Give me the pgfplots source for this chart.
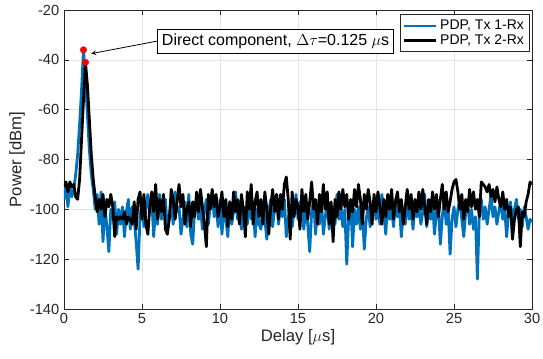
\documentclass[border=0pt]{standalone}
\usepackage{pgfplots}
\usepackage{pgfplotstable}
\pgfplotsset{compat=1.18}
\usepackage{fontspec}
\setmainfont{Liberation Sans}
\definecolor{mblue}{rgb}{0,0.447,0.741}
\definecolor{axgray}{rgb}{0.15,0.15,0.15}
\pgfplotstableread{
x blue black
0.000 -96 -91
0.125 -90 -89
0.250 -99 -93
0.375 -91 -89
0.500 -95 -91
0.625 -92 -90
0.750 -86 -95
0.875 -78 -96
1.000 -66 -88
1.125 -52 -72
1.250 -36 -56
1.375 -48 -41
1.500 -62 -50
1.625 -76 -64
1.750 -86 -78
1.875 -92 -88
2.000 -100 -95
2.125 -94 -101
2.250 -106 -96
2.375 -93 -100
2.500 -113 -94
2.625 -99 -103
2.750 -107 -96
2.875 -117 -99
3.000 -100 -94
3.125 -104 -99
3.250 -97 -111
3.375 -110 -103
3.500 -100 -104
3.625 -106 -103
3.750 -99 -104
3.875 -111 -101
4.000 -101 -106
4.125 -96 -103
4.250 -108 -104
4.375 -99 -106
4.500 -104 -97
4.625 -113 -108
4.750 -124 -96
4.875 -103 -93
5.000 -97 -104
5.125 -107 -94
5.250 -100 -106
5.375 -94 -110
5.500 -101 -99
5.625 -96 -93
5.750 -111 -101
5.875 -99 -90
6.000 -106 -104
6.125 -94 -96
6.250 -104 -101
6.375 -100 -94
6.500 -96 -108
6.625 -108 -110
6.750 -103 -104
6.875 -97 -92
7.000 -106 -96
7.125 -93 -104
7.250 -101 -97
7.375 -99 -90
7.500 -110 -99
7.625 -104 -94
7.750 -97 -106
7.875 -107 -100
8.000 -94 -97
8.125 -110 -107
8.250 -114 -97
8.375 -100 -103
8.500 -96 -93
8.625 -104 -101
8.750 -99 -92
8.875 -108 -99
9.000 -101 -106
9.125 -96 -115
9.250 -106 -94
9.375 -99 -100
9.500 -93 -92
9.625 -103 -99
9.750 -97 -94
9.875 -107 -103
10.000 -96 -99
10.125 -110 -93
10.250 -100 -103
10.375 -104 -96
10.500 -111 -107
10.625 -97 -97
10.750 -106 -104
10.875 -101 -93
11.000 -93 -101
11.125 -104 -96
11.250 -97 -106
11.375 -108 -94
11.500 -101 -100
11.625 -99 -111
11.750 -106 -93
11.875 -96 -100
12.000 -104 -90
12.125 -99 -106
12.250 -111 -97
12.375 -100 -93
12.500 -106 -103
12.625 -108 -96
12.750 -97 -106
12.875 -104 -93
13.000 -112 -100
13.125 -101 -110
13.250 -96 -99
13.375 -107 -92
13.500 -100 -101
13.625 -94 -94
13.750 -106 -104
13.875 -99 -94
14.000 -103 -100
14.125 -96 -90
14.250 -111 -87
14.375 -104 -96
14.500 -99 -112
14.625 -107 -93
14.750 -100 -103
14.875 -94 -96
15.000 -104 -99
15.125 -97 -108
15.250 -101 -92
15.375 -108 -101
15.500 -99 -94
15.625 -106 -104
15.750 -117 -97
15.875 -101 -89
16.000 -96 -100
16.125 -110 -96
16.250 -100 -106
16.375 -106 -94
16.500 -96 -101
16.625 -110 -90
16.750 -103 -100
16.875 -97 -93
17.000 -108 -106
17.125 -101 -97
17.250 -99 -113
17.375 -106 -96
17.500 -94 -103
17.625 -104 -93
17.750 -99 -100
17.875 -107 -92
18.000 -100 -99
18.125 -122 -94
18.250 -103 -104
18.375 -97 -96
18.500 -115 -101
18.625 -100 -92
18.750 -106 -99
18.875 -99 -90
19.000 -108 -96
19.125 -101 -106
19.250 -116 -94
19.375 -104 -100
19.500 -99 -92
19.625 -107 -97
19.750 -100 -106
19.875 -96 -94
20.000 -104 -101
20.125 -99 -93
20.250 -106 -99
20.375 -94 -106
20.500 -101 -96
20.625 -110 -103
20.750 -97 -94
20.875 -104 -100
21.000 -100 -92
21.125 -107 -104
21.250 -96 -97
21.375 -103 -93
21.500 -99 -101
21.625 -111 -96
21.750 -101 -106
21.875 -106 -99
22.000 -96 -92
22.125 -104 -100
22.250 -100 -94
22.375 -108 -104
22.500 -97 -96
22.625 -103 -101
22.750 -99 -93
22.875 -106 -100
23.000 -101 -92
23.125 -94 -99
23.250 -107 -106
23.375 -100 -96
23.500 -104 -101
23.625 -97 -93
23.750 -110 -100
23.875 -101 -94
24.000 -99 -103
24.125 -114 -96
24.250 -103 -90
24.375 -96 -100
24.500 -106 -93
24.625 -100 -101
24.750 -118 -97
24.875 -104 -92
25.000 -99 -89
25.125 -107 -88
25.250 -100 -93
25.375 -96 -100
25.500 -104 -94
25.625 -111 -104
25.750 -101 -96
25.875 -97 -101
26.000 -106 -92
26.125 -100 -99
26.250 -108 -93
26.375 -103 -100
26.500 -128 -96
26.625 -101 -103
26.750 -96 -89
26.875 -104 -90
27.000 -99 -91
27.125 -106 -93
27.250 -100 -90
27.375 -94 -95
27.500 -103 -92
27.625 -99 -97
27.750 -106 -91
27.875 -101 -96
28.000 -96 -99
28.125 -104 -93
28.250 -100 -100
28.375 -111 -96
28.500 -101 -103
28.625 -97 -99
28.750 -106 -112
28.875 -100 -104
29.000 -96 -100
29.125 -104 -99
29.250 -100 -115
29.375 -107 -101
29.500 -99 -103
29.625 -103 -97
29.750 -108 -94
29.875 -104 -89
30.000 -105 -90
}\pdpdata
\begin{document}
\begin{tikzpicture}
\path[use as bounding box] (-48pt,-36.75pt) rectangle (359.25pt,231.75pt);
\begin{axis}[
  scale only axis,
  width=351pt, height=224.25pt,
  xmin=0, xmax=30, ymin=-140, ymax=-20,
  xtick={0,5,...,30}, ytick={-140,-120,...,-20},
  grid=major,
  major grid style={color=gray!22, line width=0.5pt},
  axis line style={color=axgray, line width=0.5pt},
  tick style={color=axgray, line width=0.5pt},
  tick align=inside,
  major tick length=4pt,
  ticklabel style={color=axgray, font=\fontsize{11}{13}\selectfont},
  /pgf/number format/assume math mode=true,
  xlabel={Delay [$\mu$s]},
  ylabel={Power [dBm]},
  label style={color=axgray, font=\fontsize{12.5}{14}\selectfont},
  xlabel style={yshift=3pt},
  ylabel style={yshift=-3pt},
  legend style={at={(0.995,0.985)}, anchor=north east, draw=axgray, line width=0.5pt,
    font=\fontsize{10.5}{12}\selectfont, row sep=-2pt, inner sep=2pt,
    cells={anchor=west}},
  legend image code/.code={\draw[#1, line width=2pt] (0cm,0cm) -- (0.85cm,0cm);},
]
\addplot[mblue, line width=2.1pt, line join=round] table[x=x, y=blue] {\pdpdata};
\addlegendentry{PDP, Tx 1-Rx}
\addplot[black, line width=2.1pt, line join=round] table[x=x, y=black] {\pdpdata};
\addlegendentry{PDP, Tx 2-Rx}
\addplot[only marks, mark=*, mark size=2.4pt, color=red, forget plot] coordinates {(1.25,-36) (1.375,-41)};
\node[draw=black, fill=white, line width=0.5pt, anchor=west, inner sep=3.5pt,
  font=\fontsize{12}{14}\selectfont] (ann) at (axis cs:5.96,-32.5)
  {Direct component, $\Delta\tau$=0.125 $\mu$s};
\draw[-stealth, line width=0.6pt] (ann.west) -- (axis cs:1.75,-37.5);
\end{axis}
\end{tikzpicture}
\end{document}
